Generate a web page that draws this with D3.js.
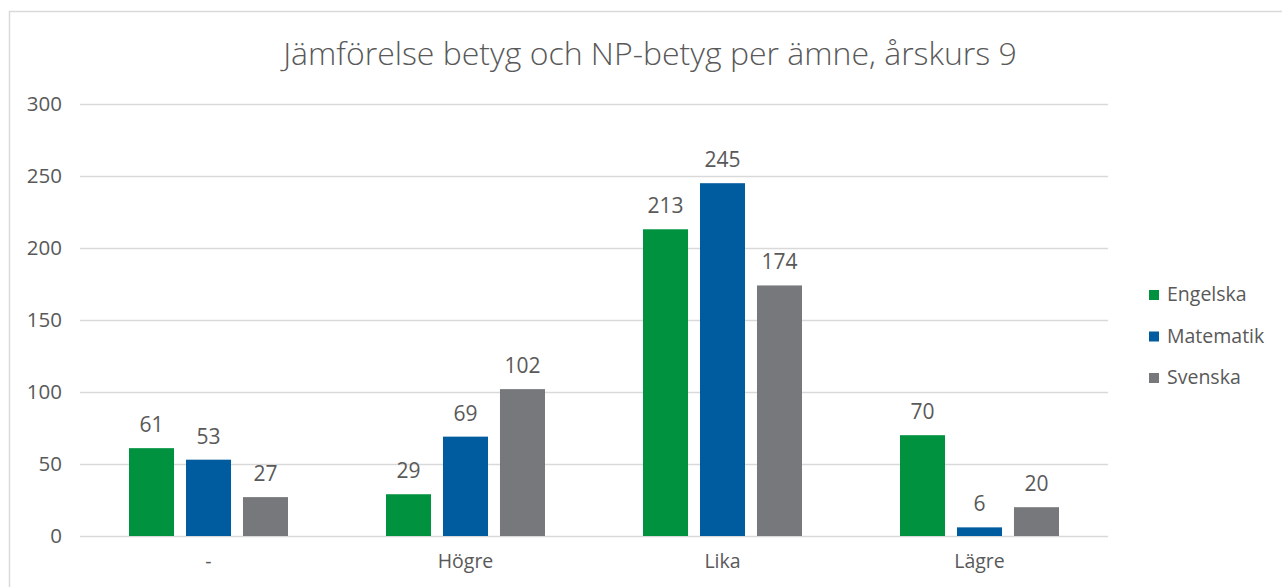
<!DOCTYPE html>
<html>
<head>
<meta charset="utf-8">
<script src="https://cdn.jsdelivr.net/npm/d3@7"></script>
<style>
  html, body { margin: 0; padding: 0; background: #fff; }
  svg { display: block; font-family: "Open Sans", "Noto Sans", sans-serif; }
</style>
</head>
<body>
<svg id="chart" width="1282" height="587"></svg>
<script>
// Comparison of school grade vs. national test grade, year 9
const categories = ["-", "Högre", "Lika", "Lägre"];
const subjects = ["Engelska", "Matematik", "Svenska"];
const engelska = [61, 29, 213, 70];
const matematik = [53, 69, 245, 6];
const svenska = [27, 102, 174, 20];
const yTicks = [0, 50, 100, 150, 200, 250, 300];
const title = "Jämförelse betyg och NP-betyg per ämne, årskurs 9";

const colors = ["#00923f", "#005b9f", "#76787b"];
const seriesValues = [engelska, matematik, svenska];

const svg = d3.select("#chart");
const textColor = "#595959";
const gridColor = "#d9d9d9";

// outer chart-area frame
svg.append("rect")
  .attr("x", 9.5).attr("y", 11.5)
  .attr("width", 1400).attr("height", 700)
  .attr("fill", "#fff")
  .attr("stroke", "#d9d9d9").attr("stroke-width", 1.5);

const plot = { left: 80, right: 1108, top: 104, bottom: 536 };

const x0 = d3.scaleBand()
  .domain(categories)
  .range([plot.left, plot.right])
  .padding(0);

const x1 = d3.scaleBand()
  .domain(subjects)
  .range([49, x0.bandwidth() - 49])
  .paddingInner(0.21)
  .paddingOuter(0);

const y = d3.scaleLinear()
  .domain([0, 300])
  .range([plot.bottom, plot.top]);

// gridlines and y labels
const yAxis = d3.axisLeft(y)
  .tickValues(yTicks)
  .tickSize(-(plot.right - plot.left))
  .tickPadding(18);

const gy = svg.append("g")
  .attr("transform", `translate(${plot.left},0)`)
  .call(yAxis);
gy.select(".domain").remove();
gy.selectAll(".tick line").attr("stroke", gridColor).attr("stroke-width", 1.5);
gy.selectAll(".tick text")
  .attr("fill", textColor)
  .attr("font-size", 20.5)
  .attr("font-family", "'Open Sans', sans-serif");

// category labels
const xAxis = d3.axisBottom(x0).tickSize(0).tickPadding(18);
const gx = svg.append("g")
  .attr("transform", `translate(0,${plot.bottom})`)
  .call(xAxis);
gx.select(".domain").remove();
gx.selectAll(".tick text")
  .attr("fill", textColor)
  .attr("font-size", 19.5)
  .attr("font-family", "'Open Sans', sans-serif");

// bars
const groups = svg.append("g").selectAll("g")
  .data(categories)
  .join("g")
  .attr("transform", d => `translate(${x0(d)},0)`);

const cells = groups.selectAll("g.cell")
  .data((c, ci) => subjects.map((s, si) => ({ s, si, v: seriesValues[si][ci] })))
  .join("g").attr("class", "cell");

cells.append("rect")
  .attr("x", d => x1(d.s))
  .attr("y", d => y(d.v))
  .attr("width", x1.bandwidth())
  .attr("height", d => y(0) - y(d.v))
  .attr("fill", d => colors[d.si]);

cells.append("text")
  .attr("x", d => x1(d.s) + x1.bandwidth() / 2)
  .attr("y", d => y(d.v) - 16)
  .attr("text-anchor", "middle")
  .attr("fill", textColor)
  .attr("font-size", 21)
  .text(d => d.v);

// title
svg.append("text")
  .attr("x", 650).attr("y", 65)
  .attr("text-anchor", "middle")
  .attr("fill", textColor)
  .attr("font-size", 32)
  .attr("font-weight", 300)
  .text(title);

// legend
const legend = svg.append("g")
  .selectAll("g")
  .data(subjects)
  .join("g")
  .attr("transform", (d, i) => `translate(1149,${290 + i * 41.5})`);
legend.append("rect")
  .attr("width", 10).attr("height", 10)
  .attr("fill", (d, i) => colors[i]);
legend.append("text")
  .attr("x", 18).attr("y", 11)
  .attr("fill", textColor)
  .attr("font-size", 19.5)
  .text(d => d);
</script>
</body>
</html>
